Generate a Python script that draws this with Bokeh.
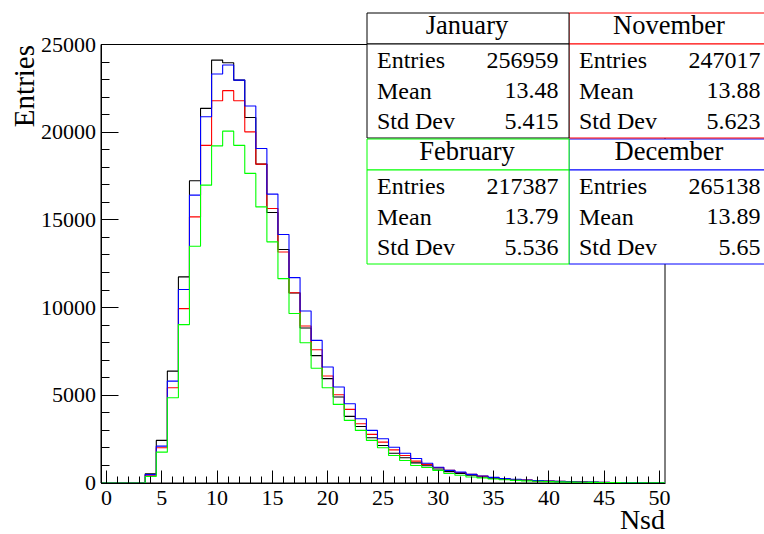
from bokeh.plotting import figure
from bokeh.models import Range1d, FixedTicker, Label, BoxAnnotation, LinearAxis
from bokeh.embed import file_html
from bokeh.resources import INLINE

# ---------------- data ----------------
bins = list(range(0, 51))  # bin centres (Nsd), bin width 1

january = [0, 0, 0, 0, 530, 2430, 6380, 11750, 17230, 21360,
           24110, 23960, 22970, 20840, 18180, 15420, 13310, 10830, 8840, 7260,
           5950, 4900, 3800, 3220, 2580, 2140, 1700, 1440, 1150, 980,
           800, 650, 550, 450, 350, 270, 220, 180, 150, 120,
           100, 80, 65, 50, 40, 32, 25, 20, 15, 12, 10]
november = [0, 0, 0, 0, 450, 2010, 5430, 9940, 15170, 19250,
            21790, 22370, 21790, 20020, 18180, 15650, 13170, 10850, 8950, 7600,
            6100, 5030, 4200, 3380, 2770, 2330, 1890, 1570, 1250, 1060,
            880, 720, 600, 490, 390, 310, 250, 200, 165, 135,
            110, 90, 72, 58, 46, 37, 30, 24, 19, 15, 12]
december = [0, 0, 0, 0, 480, 2100, 5810, 11030, 16410, 20880,
            23320, 23830, 22970, 21490, 19070, 16470, 14170, 11710, 9810, 8130,
            6610, 5470, 4520, 3660, 3000, 2520, 2040, 1700, 1400, 1130,
            900, 720, 620, 490, 400, 320, 260, 210, 170, 140,
            115, 95, 75, 60, 48, 38, 30, 24, 19, 15, 12]
february = [0, 0, 0, 0, 370, 1760, 4860, 9030, 13500, 16980,
            19220, 20060, 19250, 17650, 15740, 13750, 11650, 9660, 8000, 6540,
            5430, 4480, 3570, 3000, 2430, 2010, 1570, 1280, 1000, 880,
            720, 540, 440, 340, 290, 230, 185, 150, 120, 100,
            80, 65, 52, 42, 34, 27, 22, 18, 14, 11, 9]

x_major_ticks = [0, 5, 10, 15, 20, 25, 30, 35, 40, 45, 50]
x_minor_ticks = list(range(0, 51))
y_major_ticks = [0, 5000, 10000, 15000, 20000, 25000]
y_minor_ticks = list(range(0, 25001, 1000))
x_lo, x_hi = -0.5, 50.5
y_lo, y_hi = 0, 25000

stat_names = ["Entries", "Mean", "Std Dev"]
stats_january = ["January", "256959", "13.48", "5.415"]
stats_november = ["November", "247017", "13.88", "5.623"]
stats_february = ["February", "217387", "13.79", "5.536"]
stats_december = ["December", "265138", "13.89", "5.65"]

FONT = "Liberation Serif"

# ---------------- layout (pixels) ----------------
W, H = 764, 534
FL, FR, FT, FB = 100.5, 664.5, 44.0, 482.5   # visible axes box
xs = (x_hi - x_lo) / (FR - FL)
ys = (y_hi - y_lo) / (FB - FT)

p = figure(width=W, height=H, output_backend="svg", toolbar_location=None, title=None,
           x_axis_location=None, y_axis_location=None,
           x_range=Range1d(x_lo - FL * xs, x_lo + (W - FL) * xs),
           y_range=Range1d(y_lo - (H - FB) * ys, y_hi + FT * ys),
           min_border=0, min_border_left=0, min_border_right=0,
           min_border_top=0, min_border_bottom=0)
p.grid.visible = False
p.outline_line_color = None
p.background_fill_color = "white"
p.border_fill_color = "white"

# frame outline (top / right edges of the axes box)
p.add_layout(BoxAnnotation(left=x_lo, right=x_hi, bottom=y_lo, top=y_hi,
                           fill_color=None, fill_alpha=0, line_color="black",
                           line_alpha=1.0, line_width=1, level="underlay"))

edges = [b - 0.5 for b in bins] + [bins[-1] + 0.5]
for vals, col in [(january, "#000000"), (november, "#ff0000"),
                  (december, "#0000ff"), (february, "#00ff00")]:
    p.step(x=edges, y=vals + [vals[-1]], mode="after", line_color=col, line_width=1.1)


def make_axis(loc, bounds, maj, mino, tin, tmin, standoff):
    ax = LinearAxis(fixed_location=loc, bounds=bounds,
                    ticker=FixedTicker(ticks=maj, minor_ticks=mino))
    ax.major_tick_in = tin
    ax.major_tick_out = 0
    ax.minor_tick_in = tmin
    ax.minor_tick_out = 0
    ax.major_tick_line_color = "black"
    ax.minor_tick_line_color = "black"
    ax.axis_line_color = "black"
    ax.axis_line_width = 1
    ax.major_label_text_font = FONT
    ax.major_label_text_font_size = "22px"
    ax.major_label_text_color = "black"
    ax.major_label_standoff = standoff
    return ax


p.add_layout(make_axis(y_lo, (x_lo, x_hi), x_major_ticks, x_minor_ticks, 13, 7, 8), "below")
p.add_layout(make_axis(x_lo, (y_lo, y_hi), y_major_ticks, y_minor_ticks, 17, 8, 5), "left")

SHIFT = 0.35  # empirical offset of the rendered text baseline, in em


def lab(text, px, py, size, align="left", angle=0.0):
    if angle:
        px = px - SHIFT * size
    else:
        py = py - SHIFT * size
    p.add_layout(Label(x=px, y=H - py, x_units="screen", y_units="screen",
                       text=text, text_font=FONT, text_font_size=f"{size}px",
                       text_color="black", text_align=align,
                       text_baseline="alphabetic", angle=angle, level="overlay"))


# axis titles
lab("Entries", 33.5, 44.5, 29, align="right", angle=1.5708)
lab("Nsd", 664.5, 528.5, 28, align="right")


def stat_box(st, left, top, col):
    right = left + 202
    sep = top + 31
    bottom = top + 125
    for t, b in [(top, sep), (sep, bottom)]:
        p.add_layout(BoxAnnotation(left=left, right=right, top=H - t, bottom=H - b,
                                   left_units="screen", right_units="screen",
                                   top_units="screen", bottom_units="screen",
                                   fill_color="white", fill_alpha=1.0,
                                   line_color=col, line_alpha=1.0, line_width=1,
                                   level="annotation"))
    lab(st[0], left + 100, top + 21.5, 26.5, align="center")
    for i, nm in enumerate(stat_names):
        base = sep + 24.5 + i * 30.5
        lab(nm, left + 10, base, 24, align="left")
        lab(st[i + 1], left + 191.5, base, 24, align="right")


stat_box(stats_december, 568.5, 138.5, "#0000ff")
stat_box(stats_november, 568.5, 12.5, "#ff0000")
stat_box(stats_january, 366.5, 12.5, "#000000")
stat_box(stats_february, 366.5, 138.5, "#00ff00")

open("out.html", "w").write(file_html(p, INLINE))
